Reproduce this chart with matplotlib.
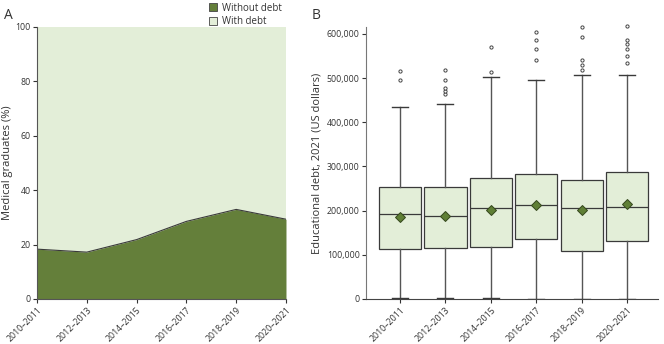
import matplotlib.pyplot as plt

plt.rcParams['font.family'] = ['Open Sans', 'DejaVu Sans']

years = ["2010\u20132011", "2012\u20132013", "2014\u20132015",
         "2016\u20132017", "2018\u20132019", "2020\u20132021"]

# panel A: share of graduates without debt (%)
without_debt = [18.3, 17.2, 21.8, 28.5, 32.9, 29.3]

# panel B: box statistics (US dollars)
q1 = [112500, 115500, 118500, 135000, 108000, 131000]
med = [191500, 188000, 205000, 212000, 205000, 208000]
q3 = [254000, 254000, 274500, 283500, 268500, 288000]
whislo = [1000, 1000, 2000, 0, 0, 0]
whishi = [434000, 442000, 503000, 495000, 508000, 508000]
means = [185500, 187000, 201000, 212000, 201000, 215500]
fliers = [
    [496500, 517000],
    [464000, 471500, 478500, 495000, 518500],
    [514000, 571000],
    [541000, 565000, 586000, 605000],
    [519000, 530000, 540000, 593000, 615000],
    [534000, 551000, 566000, 578000, 587000, 618000],
]

dark = "#647f3a"
light = "#e3eed8"
txt = "#333333"

fig = plt.figure(figsize=(6.64, 3.44), dpi=100)

# ---- panel A
ax1 = fig.add_axes([0.0557, 0.131, 0.375, 0.791])
x = list(range(len(years)))
ax1.fill_between(x, 0, 100, color=light, lw=0, label="With debt")
ax1.fill_between(x, 0, without_debt, color=dark, lw=0, label="Without debt")
ax1.plot(x, without_debt, color="#3a3a3a", lw=0.8)
ax1.set_xlim(0, 5)
ax1.set_ylim(0, 100)
ax1.set_yticks([0, 20, 40, 60, 80, 100])
ax1.set_xticks(x)
ax1.set_xticklabels(years, rotation=45, ha="right", rotation_mode="anchor")
ax1.set_ylabel("Medical graduates (%)", fontsize=8, color=txt, labelpad=2)
for s in ["top", "right"]:
    ax1.spines[s].set_visible(False)
for s in ["left", "bottom"]:
    ax1.spines[s].set_color("#555555")
ax1.tick_params(labelsize=6.3, colors=txt, length=3, pad=1.5)
h, l = ax1.get_legend_handles_labels()
leg = ax1.legend(h[::-1], l[::-1], loc="lower right", bbox_to_anchor=(1.0, 0.985),
                 frameon=False, fontsize=7, handlelength=0.9, handleheight=0.9,
                 handletextpad=0.5, labelspacing=0.25, borderaxespad=0)
for p in leg.get_patches():
    p.set_edgecolor("#444444")
    p.set_linewidth(0.6)
for t in leg.get_texts():
    t.set_color(txt)

# ---- panel B
ax2 = fig.add_axes([0.551, 0.131, 0.44, 0.791])
stats = []
for i in range(len(years)):
    stats.append(dict(med=med[i], q1=q1[i], q3=q3[i], whislo=whislo[i],
                      whishi=whishi[i], mean=means[i], fliers=fliers[i]))
bp = ax2.bxp(stats, positions=x, widths=0.93, showmeans=True, patch_artist=True,
             boxprops=dict(facecolor=light, edgecolor="#3a3a3a", lw=0.9),
             medianprops=dict(color="#3a3a3a", lw=0.9),
             whiskerprops=dict(color="#555555", lw=1.0),
             capprops=dict(color="#3a3a3a", lw=1.0),
             capwidths=0.35,
             meanprops=dict(marker="D", markerfacecolor="#5f7f35",
                            markeredgecolor="#34471c", markersize=5.5, mew=0.7),
             flierprops=dict(marker="o", markersize=2.3, markerfacecolor="white",
                             markeredgecolor="#444444", mew=0.7))
for f in bp["fliers"]:
    f.set_clip_on(False)
ax2.set_xlim(-0.75, 5.68)
ax2.set_ylim(0, 616000)
ax2.set_yticks([0, 100000, 200000, 300000, 400000, 500000, 600000])
ax2.set_yticklabels(["0", "100,000", "200,000", "300,000", "400,000",
                     "500,000", "600,000"])
ax2.set_xticks(x)
ax2.set_xticklabels(years, rotation=45, ha="right", rotation_mode="anchor")
ax2.set_ylabel("Educational debt, 2021 (US dollars)", fontsize=8, color=txt, labelpad=3)
for s in ["top", "right"]:
    ax2.spines[s].set_visible(False)
ax2.spines["left"].set_color("#777777")
ax2.spines["bottom"].set_color("#444444")
ax2.tick_params(labelsize=6.3, colors=txt, length=3, pad=1.5)

fig.text(0.006, 0.945, "A", fontsize=10, color=txt)
fig.text(0.469, 0.945, "B", fontsize=10, color=txt)

fig.savefig("out.png", dpi=100)
